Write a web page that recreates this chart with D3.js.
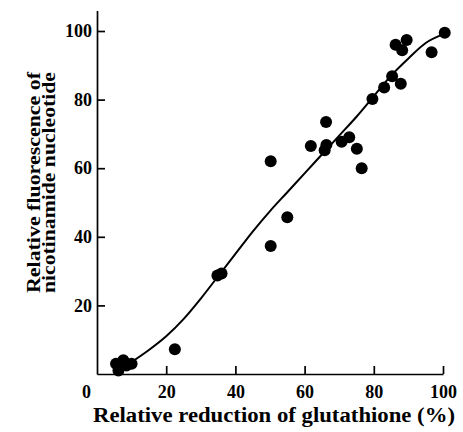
<!DOCTYPE html>
<html lang="en">
<head>
<meta charset="UTF-8">
<script src="https://cdn.jsdelivr.net/npm/d3@7/dist/d3.min.js"></script>
<title>glutathione</title>
<style>
  body { margin: 0; background: #fff; }
  text { font-family: "Liberation Serif", "Times New Roman", serif; font-weight: bold; fill: #000; }
  .axis path, .axis line { stroke: #000; stroke-width: 1.7; }
</style>
</head>
<body>
<div id="chart"></div>
<script>
  // measured points (x = % reduction of glutathione, y = relative fluorescence)
  var xValues = [5.5, 6.2, 7.6, 8.5, 10, 22.5, 34.8, 36, 50.2, 50.2, 55, 61.8, 65.8, 66.3,
                 66.2, 70.7, 72.9, 75.1, 76.5, 79.6, 83.0, 85.3, 87.8, 86.3, 88.2, 89.5, 96.7, 100.5];
  var yValues = [3, 1, 4, 2.5, 3, 7.2, 28.7, 29.3, 62, 37.3, 45.7, 66.5, 65.2, 66.8,
                 73.5, 67.7, 69, 65.7, 60, 80.2, 83.5, 86.8, 84.6, 96, 94.4, 97.4, 93.8, 99.5];

  // fitted curve
  var curveX = [10, 15, 20, 25, 30, 35, 40, 45, 50, 55, 60, 65, 70, 75, 80, 85, 90, 95, 100];
  var curveY = [3.5, 7, 11, 16, 22, 28.5, 35, 41.5, 47.5, 53, 58.5, 64, 69.5, 75, 81, 87, 92, 96.5, 99];

  var xTicks = [0, 20, 40, 60, 80, 100];
  var yTicks = [20, 40, 60, 80, 100];

  var W = 463, H = 432;
  var svg = d3.select("#chart").append("svg")
      .attr("width", W).attr("height", H);

  var x = d3.scaleLinear().domain([0, 100]).range([97, 443]);
  var y = d3.scaleLinear().domain([0, 106]).range([374, 374 - 106 * 3.43]);

  // x axis, ticks pointing inward
  var gx = svg.append("g").attr("class", "axis")
      .attr("transform", "translate(0," + y(0) + ")")
      .call(d3.axisBottom(x).tickValues(xTicks).tickSizeInner(-8).tickSizeOuter(0).tickPadding(11));
  gx.selectAll(".tick text").attr("dy", "0.71em");
  gx.selectAll(".tick").filter(function(d) { return d === 0; })
      .select("text").attr("dx", -11);
  gx.selectAll(".tick").filter(function(d) { return d === 0; })
      .select("line").remove();

  // y axis
  var gy = svg.append("g").attr("class", "axis")
      .attr("transform", "translate(" + x(0) + ",0)")
      .call(d3.axisLeft(y).tickValues(yTicks).tickSizeInner(-8).tickSizeOuter(0).tickPadding(5));

  svg.selectAll(".tick text")
      .style("font-size", "18px")
      .style("font-family", "'Liberation Serif', serif")
      .style("font-weight", "bold");

  // curve
  var line = d3.line()
      .x(function(d, i) { return x(curveX[i]); })
      .y(function(d, i) { return y(curveY[i]); })
      .curve(d3.curveMonotoneX);
  svg.append("path")
      .datum(curveX)
      .attr("d", line)
      .attr("fill", "none")
      .attr("stroke", "#000")
      .attr("stroke-width", 2);

  // points
  svg.selectAll(".dot")
      .data(xValues)
      .enter()
      .append("circle")
      .attr("class", "dot")
      .attr("cx", function(d) { return x(d); })
      .attr("cy", function(d, i) { return y(yValues[i]); })
      .attr("r", 6)
      .attr("fill", "#000");

  // axis titles
  svg.append("text")
      .attr("x", 93).attr("y", 422)
      .attr("textLength", 362)
      .attr("lengthAdjust", "spacingAndGlyphs")
      .style("font-size", "20px")
      .text("Relative reduction of glutathione (%)");

  svg.append("text")
      .attr("transform", "translate(40,293) rotate(-90)")
      .attr("textLength", 221)
      .attr("lengthAdjust", "spacingAndGlyphs")
      .style("font-size", "19px")
      .text("Relative fluorescence of");
  svg.append("text")
      .attr("transform", "translate(55,293) rotate(-90)")
      .attr("textLength", 221)
      .attr("lengthAdjust", "spacingAndGlyphs")
      .style("font-size", "19px")
      .text("nicotinamide nucleotide");
</script>
</body>
</html>
